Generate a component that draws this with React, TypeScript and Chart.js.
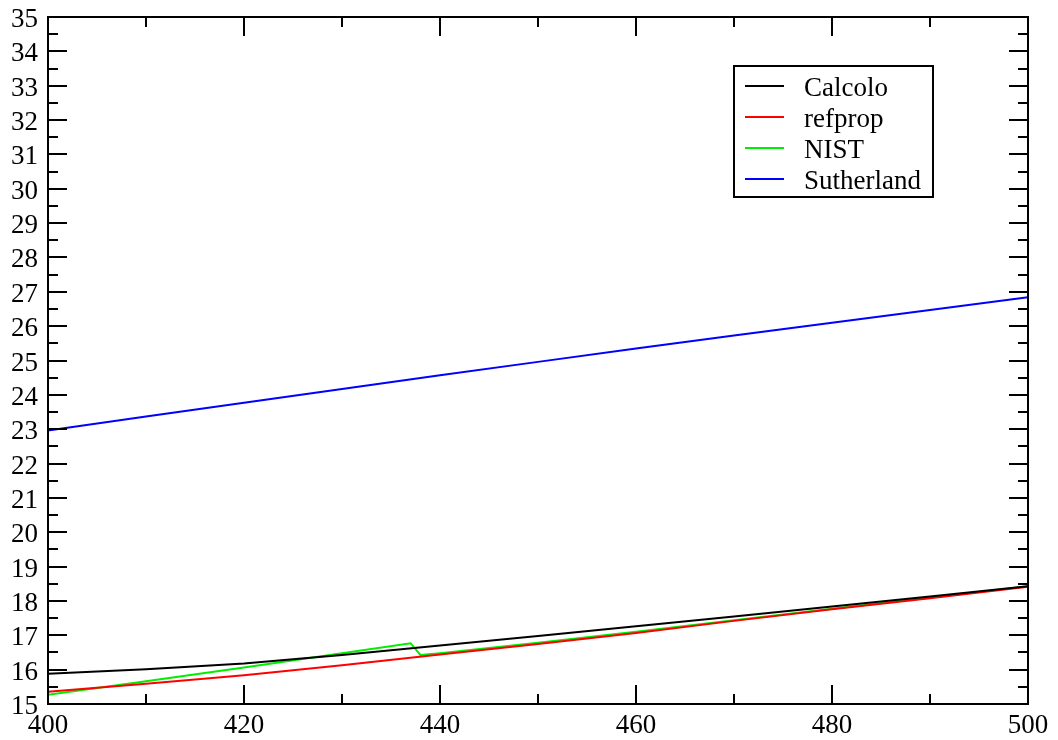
import React, { useEffect, useRef } from "react";
import { Chart, registerables } from "chart.js";

Chart.register(...registerables);

const xValues = [400, 410, 420, 430, 440, 450, 460, 470, 480, 490, 500];
const calcolo = [15.88, 16.01, 16.18, 16.43, 16.7, 16.98, 17.26, 17.55, 17.84, 18.13, 18.43];
const refprop = [15.36, 15.59, 15.84, 16.13, 16.44, 16.75, 17.07, 17.42, 17.76, 18.08, 18.41];
const nistX = [400, 410, 420, 430, 437, 438, 440, 450, 460, 470, 480, 490, 500];
const nist = [15.27, 15.66, 16.06, 16.48, 16.77, 16.43, 16.48, 16.78, 17.1, 17.44, 17.77, 18.1, 18.43];
const sutherland = [22.96, 23.37, 23.77, 24.17, 24.57, 24.96, 25.35, 25.73, 26.1, 26.47, 26.84];

const seriesNames = ["Calcolo", "refprop", "NIST", "Sutherland"];
const seriesColors = ["#000000", "#ff0000", "#00ee00", "#0000ff"];

const xTickLabels = [400, 420, 440, 460, 480, 500];
const xMinorTicks = [410, 430, 450, 470, 490];
const yTickLabels = [15, 16, 17, 18, 19, 20, 21, 22, 23, 24, 25, 26, 27, 28, 29, 30, 31, 32, 33, 34, 35];

const FONT = "27px 'Liberation Serif', 'DejaVu Serif', serif";

const framePlugin = {
  id: "framePlugin",
  afterDraw(chart: any) {
    const ctx = chart.ctx;
    const { left, right, top, bottom } = chart.chartArea;
    const xs = chart.scales.x;
    const ys = chart.scales.y;
    ctx.save();
    ctx.strokeStyle = "#000";
    ctx.lineWidth = 2;
    const major = 19;
    const minor = 10;
    const drawX = (v: number, len: number) => {
      const px = Math.round(xs.getPixelForValue(v));
      ctx.beginPath();
      ctx.moveTo(px, bottom);
      ctx.lineTo(px, bottom - len);
      ctx.moveTo(px, top);
      ctx.lineTo(px, top + len);
      ctx.stroke();
    };
    xTickLabels.forEach((v) => drawX(v, major));
    xMinorTicks.forEach((v) => drawX(v, minor));
    const drawY = (v: number, len: number) => {
      const py = Math.round(ys.getPixelForValue(v));
      ctx.beginPath();
      ctx.moveTo(left, py);
      ctx.lineTo(left + len, py);
      ctx.moveTo(right, py);
      ctx.lineTo(right - len, py);
      ctx.stroke();
    };
    yTickLabels.forEach((v, i) => {
      drawY(v, major);
      if (i < yTickLabels.length - 1) drawY(v + 0.5, minor);
    });
    ctx.lineWidth = 2;
    ctx.strokeRect(left, top, right - left, bottom - top);
    ctx.fillStyle = "#000";
    ctx.font = FONT;
    ctx.textBaseline = "alphabetic";
    ctx.textAlign = "center";
    xTickLabels.forEach((v) => {
      ctx.fillText(String(v), xs.getPixelForValue(v), 733);
    });
    ctx.textAlign = "right";
    yTickLabels.forEach((v) => {
      ctx.fillText(String(v), 38, ys.getPixelForValue(v) + 10);
    });
    ctx.lineWidth = 2;
    ctx.strokeRect(734, 66, 199, 131);
    ctx.textAlign = "left";
    seriesNames.forEach((name, i) => {
      const y = 86 + i * 31;
      ctx.strokeStyle = seriesColors[i];
      ctx.beginPath();
      ctx.moveTo(745, y);
      ctx.lineTo(784, y);
      ctx.stroke();
      ctx.fillStyle = "#000";
      ctx.fillText(name, 804, y + 9.5);
    });
    ctx.restore();
  },
};

export default function App() {
  const ref = useRef<HTMLCanvasElement>(null);
  useEffect(() => {
    if (!ref.current) return;
    const mk = (xsArr: number[], ysArr: number[]) => xsArr.map((x, i) => ({ x, y: ysArr[i] }));
    const datas = [mk(xValues, calcolo), mk(xValues, refprop), mk(nistX, nist), mk(xValues, sutherland)];
    const chart = new Chart(ref.current, {
      type: "line",
      data: {
        datasets: seriesNames.map((name, i) => ({
          label: name,
          data: datas[i],
          borderColor: seriesColors[i],
          borderWidth: 2,
          pointRadius: 0,
          tension: 0,
          fill: false,
        })),
      },
      options: {
        responsive: false,
        animation: false,
        devicePixelRatio: 1,
        layout: { padding: { left: 48, right: 30, top: 17, bottom: 36 } },
        plugins: { legend: { display: false }, tooltip: { enabled: false } },
        scales: {
          x: { type: "linear", min: 400, max: 500, display: false },
          y: { type: "linear", min: 15, max: 35, display: false },
        },
      },
      plugins: [framePlugin],
    });
    return () => chart.destroy();
  }, []);
  return (
    <div style={{ position: "fixed", left: 0, top: 0, width: 1058, height: 740, background: "#fff" }}>
      <canvas ref={ref} width={1058} height={740} style={{ width: 1058, height: 740, display: "block" }} />
    </div>
  );
}
